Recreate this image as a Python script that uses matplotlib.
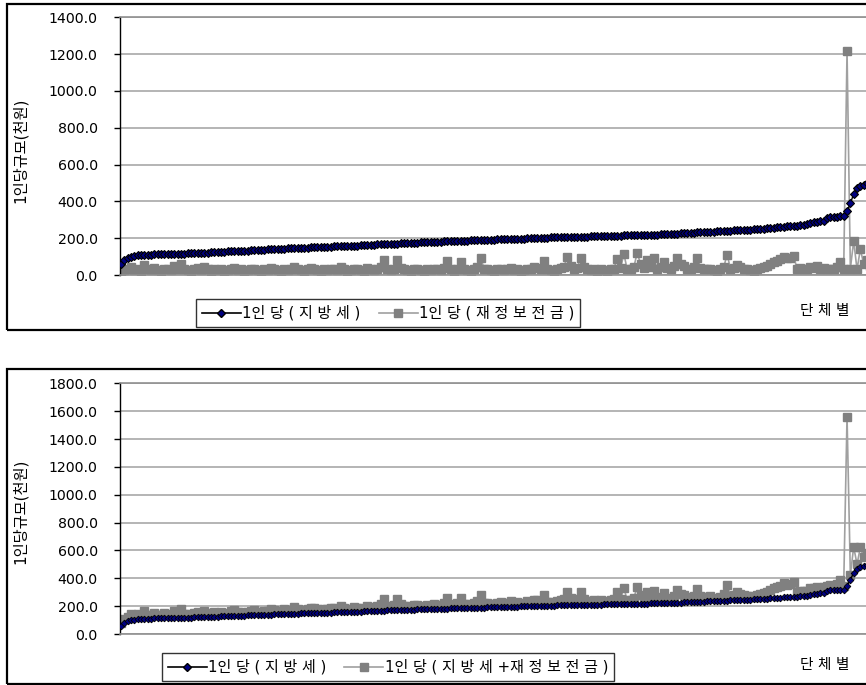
import matplotlib
matplotlib.use("Agg")
import matplotlib.pyplot as plt
from matplotlib.lines import Line2D
from matplotlib.patches import Rectangle

plt.rcParams['font.family'] = ['DejaVu Sans', 'Noto Sans CJK KR']

# ---- data (천원, sorted by 1인당 지방세) ----
jibangse = [
    58, 82, 92, 100, 104, 106, 108, 109, 110, 111,
    112, 112, 113, 113, 114, 114, 115, 115, 116, 116,
    117, 118, 119, 120, 121, 121, 122, 123, 124, 125,
    126, 127, 128, 128, 129, 130, 131, 132, 133, 134,
    135, 136, 137, 138, 139, 140, 141, 142, 143, 143,
    144, 145, 146, 147, 148, 148, 149, 150, 151, 152,
    152, 153, 154, 154, 155, 156, 156, 157, 158, 158,
    159, 160, 161, 162, 163, 164, 165, 166, 167, 168,
    169, 169, 170, 171, 172, 172, 173, 174, 175, 176,
    177, 177, 178, 179, 180, 180, 181, 182, 183, 184,
    184, 185, 186, 186, 187, 188, 188, 189, 190, 190,
    191, 192, 192, 193, 194, 194, 195, 196, 196, 197,
    198, 198, 199, 200, 200, 201, 202, 202, 203, 204,
    204, 205, 205, 206, 206, 207, 207, 208, 208, 209,
    209, 210, 210, 211, 211, 212, 212, 213, 213, 214,
    214, 215, 215, 216, 216, 217, 217, 218, 218, 219,
    219, 220, 221, 221, 222, 223, 224, 225, 226, 227,
    228, 229, 230, 231, 232, 233, 234, 235, 236, 237,
    238, 239, 240, 241, 242, 243, 244, 245, 246, 247,
    248, 249, 250, 252, 254, 256, 258, 260, 262, 263,
    264, 265, 266, 268, 270, 272, 276, 282, 288, 290,
    292, 294, 312, 314, 316, 316, 318, 318, 345, 390,
    440, 470, 482, 490, 498, 505, 512, 520,
]
bojeongeum = [
    20, 25, 30, 45, 25, 35, 20, 55, 30, 25,
    40, 25, 20, 35, 30, 25, 50, 35, 60, 30,
    25, 20, 30, 40, 25, 45, 30, 20, 35, 25,
    30, 20, 25, 35, 40, 25, 30, 20, 25, 30,
    35, 25, 20, 30, 25, 40, 30, 25, 20, 35,
    25, 30, 45, 35, 25, 20, 30, 40, 35, 25,
    20, 30, 25, 35, 30, 25, 45, 30, 20, 25,
    35, 30, 25, 20, 40, 30, 25, 35, 45, 82,
    30, 25, 35, 82, 40, 30, 25, 20, 30, 35,
    25, 20, 30, 25, 35, 30, 25, 40, 76, 30,
    20, 35, 70, 30, 25, 20, 35, 45, 93, 35,
    30, 25, 20, 30, 35, 25, 30, 40, 25, 30,
    20, 25, 35, 30, 45, 40, 35, 76, 30, 25,
    20, 30, 40, 45, 98, 50, 35, 40, 90, 45,
    30, 25, 35, 20, 30, 25, 15, 30, 35, 87,
    40, 114, 30, 31, 45, 120, 60, 40, 80, 45,
    93, 30, 45, 70, 40, 30, 50, 93, 60, 50,
    35, 30, 45, 93, 40, 35, 30, 35, 25, 15,
    30, 45, 110, 35, 40, 55, 45, 35, 30, 25,
    20, 30, 40, 45, 50, 60, 70, 75, 85, 100,
    90, 95, 105, 30, 40, 35, 30, 45, 40, 50,
    35, 40, 30, 35, 30, 45, 70, 30, 1215, 35,
    185, 30, 140, 60, 80, 50, 70, 40,
]
hapgye = [a + b for a, b in zip(jibangse, bojeongeum)]  # 지방세+재정보전금

top_yticks = [0, 200, 400, 600, 800, 1000, 1200, 1400]
bot_yticks = [0, 200, 400, 600, 800, 1000, 1200, 1400, 1600, 1800]

lab_dark = "1인 당 ( 지 방 세 )"
lab_top = "1인 당 ( 재 정 보 전 금 )"
lab_bot = "1인 당 ( 지 방 세 +재 정 보 전 금 )"
ylabel = "1인당규모(천원)"
xlabel = "단 체 별"

W, H = 866, 685
fig = plt.figure(figsize=(W / 100, H / 100), dpi=100)

def fx(px):
    return px / W

def fy(py):
    return 1 - py / H

# outer frames
for (y0, y1) in [(3.5, 330), (368.5, 683.5)]:
    fig.patches.append(Rectangle((fx(7.5), fy(y1)), fx(950), (y1 - y0) / H,
                                 transform=fig.transFigure, fill=False,
                                 edgecolor='black', linewidth=1.6, zorder=0))

x = list(range(len(jibangse)))
xlo, xhi = -0.3, 229.4
ax_left, ax_right = 120, 885

def make_ax(top_px, bot_px, ymax, yticks):
    ax = fig.add_axes([fx(ax_left), fy(bot_px), (ax_right - ax_left) / W, (bot_px - top_px) / H])
    ax.set_xlim(xlo, xhi)
    ax.set_ylim(0, ymax)
    ax.set_yticks(yticks)
    ax.set_yticklabels([f"{v:.1f}" for v in yticks], fontsize=10.2)
    ax.set_xticks([])
    ax.yaxis.grid(True, color='#a8a8a8', linewidth=1.2)
    ax.set_axisbelow(True)
    ax.spines['left'].set_color('black')
    ax.spines['left'].set_linewidth(1.0)
    for s in ['top', 'bottom', 'right']:
        ax.spines[s].set_color('#909090')
        ax.spines[s].set_linewidth(1.2)
    ax.tick_params(axis='y', direction='out', length=4, width=1, color='black', pad=12)
    return ax

# top chart
ax1 = make_ax(17.3, 275, 1400, top_yticks)
ax1.plot(x, bojeongeum, color='#a0a0a0', linewidth=1.2, marker='s', markersize=6,
         markerfacecolor='#808080', markeredgecolor='#808080', zorder=2)
ax1.plot(x, jibangse, color='black', linewidth=1.0, marker='D', markersize=4.4,
         markerfacecolor='#000080', markeredgecolor='black', markeredgewidth=0.8, zorder=3)

# bottom chart
ax2 = make_ax(383.3, 634, 1800, bot_yticks)
ax2.plot(x, hapgye, color='#a0a0a0', linewidth=1.2, marker='s', markersize=6,
         markerfacecolor='#808080', markeredgecolor='#808080', zorder=2)
ax2.plot(x, jibangse, color='black', linewidth=1.0, marker='D', markersize=3.4,
         markerfacecolor='#000080', markeredgecolor='black', markeredgewidth=0.6, zorder=3)

# y labels
fig.text(fx(20), fy(150), ylabel, rotation=90, ha='center', va='center', fontsize=11)
fig.text(fx(20), fy(511), ylabel, rotation=90, ha='center', va='center', fontsize=11)

# x labels
fig.text(fx(825), fy(310), xlabel, ha='center', va='center', fontsize=10.5)
fig.text(fx(825), fy(665), xlabel, ha='center', va='center', fontsize=10.5)

h_dark = Line2D([], [], color='black', linewidth=1.2, marker='D', markersize=4.5,
                markerfacecolor='#000080', markeredgecolor='black')
h_gray = Line2D([], [], color='#a0a0a0', linewidth=1.2, marker='s', markersize=6,
                markerfacecolor='#808080', markeredgecolor='#808080')

def add_legend(labels, cx, cy):
    leg = fig.legend([h_dark, h_gray], labels, loc='center',
                     bbox_to_anchor=(fx(cx), fy(cy)), ncol=2, fontsize=10.8,
                     frameon=True, fancybox=False, edgecolor='black',
                     handlelength=2.6, handletextpad=0.1, columnspacing=1.2,
                     borderpad=0.4, borderaxespad=0)
    leg.get_frame().set_linewidth(1.0)
    return leg

add_legend([lab_dark, lab_top], 388, 313)
add_legend([lab_dark, lab_bot], 388, 667)

fig.savefig("out.png", dpi=100)
